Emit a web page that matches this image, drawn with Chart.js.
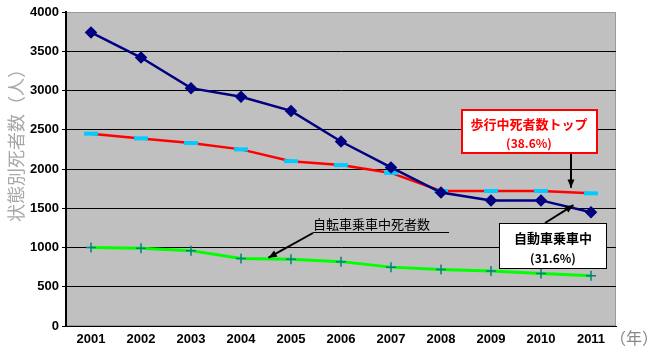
<!DOCTYPE html>
<html>
<head>
<meta charset="utf-8">
<script src="https://cdn.jsdelivr.net/npm/chart.js@4"></script>
<style>
  body { margin: 0; background: #fff; }
  #wrap { width: 653px; height: 349px; }
</style>
</head>
<body>
<div id="wrap"><canvas id="myChart"></canvas></div>
<script>
const years = ["2001", "2002", "2003", "2004", "2005", "2006", "2007", "2008", "2009", "2010", "2011"];
const carOccupant = [3740, 3420, 3030, 2920, 2740, 2350, 2020, 1700, 1600, 1600, 1450];
const pedestrian = [2450, 2390, 2330, 2250, 2100, 2050, 1950, 1720, 1720, 1720, 1690];
const bicycle = [1000, 990, 960, 860, 850, 820, 750, 720, 700, 670, 640];
const yTicks = [0, 500, 1000, 1500, 2000, 2500, 3000, 3500, 4000];

const tickFont = { family: "'Liberation Sans Narrow', 'Liberation Sans', Arial", size: 13, weight: "bold" };

function arrow(ctx, x1, y1, x2, y2, color) {
  ctx.save();
  ctx.strokeStyle = color;
  ctx.fillStyle = color;
  ctx.lineWidth = 2;
  ctx.beginPath();
  ctx.moveTo(x1, y1);
  ctx.lineTo(x2, y2);
  ctx.stroke();
  const a = Math.atan2(y2 - y1, x2 - x1);
  ctx.beginPath();
  ctx.moveTo(x2, y2);
  ctx.lineTo(x2 - 9 * Math.cos(a - 0.4), y2 - 9 * Math.sin(a - 0.4));
  ctx.lineTo(x2 - 9 * Math.cos(a + 0.4), y2 - 9 * Math.sin(a + 0.4));
  ctx.closePath();
  ctx.fill();
  ctx.restore();
}

const plotBg = {
  id: "plotBg",
  beforeDraw(chart) {
    const { ctx, chartArea: a } = chart;
    ctx.save();
    ctx.fillStyle = "#c0c0c0";
    ctx.fillRect(a.left, a.top, a.right - a.left, a.bottom - a.top);
    ctx.strokeStyle = "#9a9a9a";
    ctx.lineWidth = 1;
    ctx.strokeRect(a.left + 0.5, a.top + 0.5, a.right - a.left - 1, a.bottom - a.top - 1);
    ctx.restore();
  },
};

const notes = {
  id: "notes",
  afterDraw(chart) {
    const { ctx, scales: { x, y } } = chart;
    ctx.save();
    const jp = "'Noto Sans CJK JP', sans-serif";

    // y axis title
    ctx.save();
    ctx.translate(16, 141);
    ctx.rotate(-Math.PI / 2);
    ctx.fillStyle = "#a8a8a8";
    ctx.font = "18px " + jp;
    ctx.textAlign = "center";
    ctx.textBaseline = "middle";
    ctx.fillText("状態別死者数（人）", 0, 0);
    ctx.restore();

    // (年)
    ctx.fillStyle = "#888";
    ctx.font = "16px " + jp;
    ctx.textAlign = "left";
    ctx.textBaseline = "middle";
    ctx.fillText("（年）", 610, 338);

    // pedestrian box
    const px = x.getPixelForValue(9.6);
    arrow(ctx, px, 153, px, y.getPixelForValue(1760), "#000");
    ctx.fillStyle = "#fff";
    ctx.fillRect(462, 110, 135, 43);
    ctx.strokeStyle = "#ff0000";
    ctx.lineWidth = 2;
    ctx.strokeRect(462, 110, 135, 43);
    ctx.fillStyle = "#ff0000";
    ctx.font = "bold 13px " + jp;
    ctx.textAlign = "center";
    ctx.fillText("歩行中死者数トップ", 529, 124);
    ctx.font = "bold 12px " + jp;
    ctx.fillText("(38.6%)", 529, 143);

    // car occupant box
    arrow(ctx, 545, 223, x.getPixelForValue(9.65), y.getPixelForValue(1540), "#000");
    ctx.fillStyle = "#fff";
    ctx.fillRect(499, 223, 107, 45);
    ctx.strokeStyle = "#000";
    ctx.lineWidth = 1;
    ctx.strokeRect(499.5, 223.5, 107, 45);
    ctx.fillStyle = "#000";
    ctx.font = "bold 13px " + jp;
    ctx.fillText("自動車乗車中", 553, 238);
    ctx.font = "bold 12px " + jp;
    ctx.fillText("(31.6%)", 553, 258);

    // bicycle label
    ctx.fillStyle = "#000";
    ctx.font = "13px " + jp;
    ctx.textAlign = "left";
    ctx.fillText("自転車乗車中死者数", 313, 224);
    ctx.strokeStyle = "#000";
    ctx.lineWidth = 1;
    ctx.beginPath();
    ctx.moveTo(313, 232.5);
    ctx.lineTo(449, 232.5);
    ctx.stroke();
    arrow(ctx, 313, 233, x.getPixelForValue(3.55), y.getPixelForValue(870), "#000");
    ctx.restore();
  },
};

const data = {
  labels: years,
  datasets: [
    {
      label: "自動車乗車中",
      data: carOccupant,
      borderColor: "#000080",
      backgroundColor: "#000080",
      borderWidth: 2.5,
      pointStyle: "rectRot",
      pointRadius: 4.5,
      tension: 0,
    },
    {
      label: "歩行中",
      data: pedestrian,
      borderColor: "#ff0000",
      backgroundColor: "#00ccff",
      pointBorderColor: "#00ccff",
      borderWidth: 2.5,
      pointStyle: "line",
      pointRadius: 7,
      pointBorderWidth: 4,
      tension: 0,
    },
    {
      label: "自転車乗車中",
      data: bicycle,
      borderColor: "#00ff00",
      backgroundColor: "#008080",
      pointBorderColor: "#008080",
      borderWidth: 3,
      pointStyle: "cross",
      pointRadius: 5,
      pointBorderWidth: 1.5,
      tension: 0,
    },
  ],
};

const config = {
  type: "line",
  data: data,
  options: {
    responsive: true,
    maintainAspectRatio: false,
    animation: false,
    layout: { padding: { top: 12, right: 37, left: 0, bottom: 0 } },
    plugins: {
      legend: { display: false },
      title: { display: false },
      tooltip: { enabled: false },
    },
    scales: {
      x: {
        offset: true,
        grid: { display: false, drawTicks: false },
        border: { color: "#000", width: 1 },
        ticks: { color: "#000", font: tickFont, padding: 6, maxRotation: 0, autoSkip: false },
        afterFit(s) { s.height = 23; },
      },
      y: {
        min: 0,
        max: 4000,
        afterBuildTicks(s) { s.ticks = yTicks.map(v => ({ value: v })); },
        grid: {
          color: (c) => (c.tick && c.tick.value === 4000 ? "#9a9a9a" : "#000"),
          lineWidth: 1,
          tickLength: 4,
          tickColor: "#000",
        },
        border: { color: "#000", width: 2 },
        ticks: { color: "#000", font: tickFont, padding: 3, callback: (v) => String(v) },
        afterFit(s) { s.width = 66; },
      },
    },
  },
  plugins: [plotBg, notes],
};

const myChart = new Chart(document.getElementById("myChart"), config);
</script>
</body>
</html>
